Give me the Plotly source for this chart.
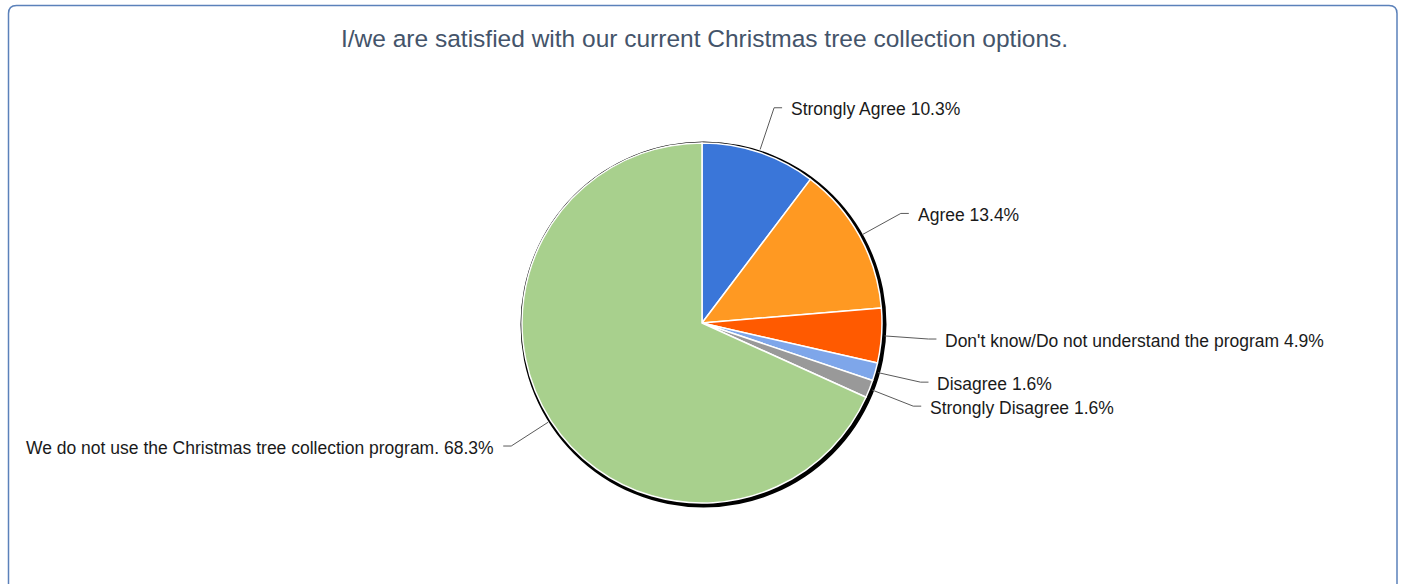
import math
import plotly.graph_objects as go

# Survey responses, in clockwise order starting at 12 o'clock
labels = [
    "Strongly Agree",
    "Agree",
    "Don't know/Do not understand the program",
    "Disagree",
    "Strongly Disagree",
    "We do not use the Christmas tree collection program.",
]
shares = [10.3, 13.4, 4.9, 1.6, 1.6, 68.3]
colors = ["#3a76d9", "#ff9922", "#ff5a00", "#7ea6ea", "#999999", "#a8d08d"]
title_text = "I/we are satisfied with our current Christmas tree collection options."

W, H = 1401, 584
CX, CY, R = 702, 323, 180          # pie centre / radius in pixels
SHADOW_CX, SHADOW_CY, SHADOW_R = 703.5, 324.5, 183
EDGE_R, ELBOW_R = 183, 227          # leader line start / elbow radii
HSEG, GAP = 8, 8                    # horizontal leader length, gap to text
FONT = "Liberation Sans, Arial, sans-serif"


def px(x):
    return x / W


def py(y):
    return 1 - y / H


fig = go.Figure()
fig.add_trace(go.Pie(
    labels=labels,
    values=shares,
    sort=False,
    direction="clockwise",
    rotation=0,
    textinfo="none",
    hoverinfo="label+percent",
    marker=dict(colors=colors, line=dict(color="white", width=1.5)),
    domain=dict(x=[px(CX - R), px(CX + R)], y=[py(CY + R), py(CY - R)]),
    showlegend=False,
))

shapes = []
# outer frame with rounded top corners
rad = 8
x0, x1, y0, y1 = 8.5, 1397, 5.5, 620
frame_path = (
    f"M {px(x0)} {py(y1)} L {px(x0)} {py(y0 + rad)} "
    f"Q {px(x0)} {py(y0)} {px(x0 + rad)} {py(y0)} "
    f"L {px(x1 - rad)} {py(y0)} "
    f"Q {px(x1)} {py(y0)} {px(x1)} {py(y0 + rad)} "
    f"L {px(x1)} {py(y1)}"
)
shapes.append(dict(type="path", xref="paper", yref="paper", path=frame_path,
                   line=dict(color="#5b81ba", width=1.5), layer="below"))

# drop shadow behind the pie
shapes.append(dict(type="circle", xref="paper", yref="paper",
                   x0=px(SHADOW_CX - SHADOW_R), x1=px(SHADOW_CX + SHADOW_R),
                   y0=py(SHADOW_CY + SHADOW_R), y1=py(SHADOW_CY - SHADOW_R),
                   fillcolor="black", line=dict(width=0), layer="below"))

# leader line geometry derived from each slice's mid angle
total = sum(shares)
geo = []
cum = 0.0
for lab, v in zip(labels, shares):
    mid = (cum + v / 2) / total * 2 * math.pi
    cum += v
    sx, sy = CX + EDGE_R * math.sin(mid), CY - EDGE_R * math.cos(mid)
    ex, ey = CX + ELBOW_R * math.sin(mid), CY - ELBOW_R * math.cos(mid)
    side = 1 if math.sin(mid) >= 0 else -1
    geo.append(dict(label=f"{lab} {v:.1f}%", sx=sx, sy=sy, ex=ex, ey=ey, side=side))

# keep right-hand labels from overlapping (push upward)
MIN_DY = 24
right = sorted([g for g in geo if g["side"] > 0], key=lambda g: g["ey"])
for i in range(len(right) - 2, -1, -1):
    if right[i]["ey"] > right[i + 1]["ey"] - MIN_DY:
        right[i]["ey"] = right[i + 1]["ey"] - MIN_DY

annotations = []
for g in geo:
    hx = g["ex"] + g["side"] * HSEG
    path = (f"M {px(g['sx'])} {py(g['sy'])} L {px(g['ex'])} {py(g['ey'])} "
            f"L {px(hx)} {py(g['ey'])}")
    shapes.append(dict(type="path", xref="paper", yref="paper", path=path,
                       line=dict(color="#5a5a5a", width=1)))
    annotations.append(dict(
        x=px(hx + g["side"] * GAP), y=py(g["ey"] + 1.5), xref="paper", yref="paper",
        text=g["label"], showarrow=False, borderpad=0,
        xanchor="left" if g["side"] > 0 else "right", yanchor="middle",
        font=dict(family=FONT, size=17.5, color="#1a1a1a"),
    ))

annotations.append(dict(
    x=px(704), y=py(38), xref="paper", yref="paper", text=title_text,
    showarrow=False, xanchor="center", yanchor="middle",
    font=dict(family=FONT, size=24.5, color="#44546a"),
))

fig.update_layout(
    width=W, height=H, autosize=False,
    margin=dict(l=0, r=0, t=0, b=0),
    paper_bgcolor="white", plot_bgcolor="white",
    shapes=shapes, annotations=annotations,
)

fig.write_html("out.html")
